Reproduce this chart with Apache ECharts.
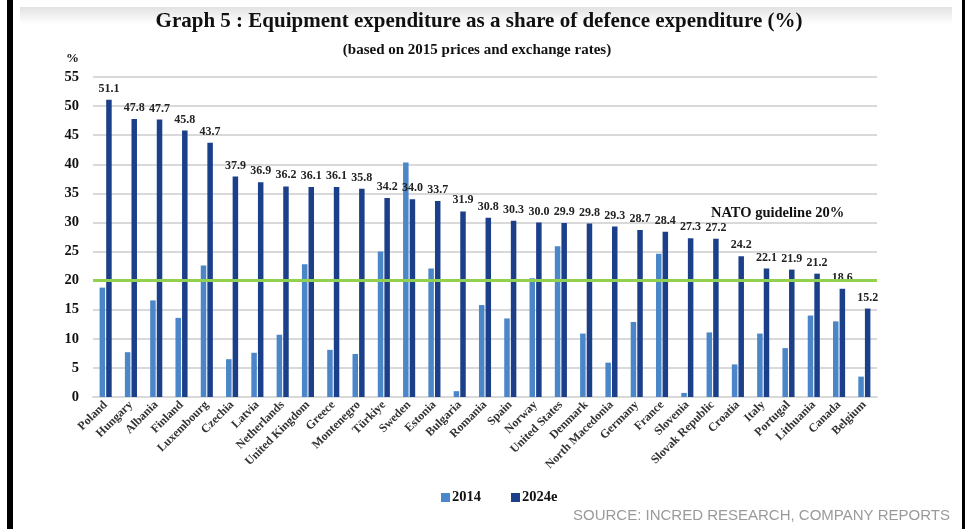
<!DOCTYPE html>
<html>
<head>
<meta charset="utf-8">
<script src="https://cdn.jsdelivr.net/npm/echarts@6/dist/echarts.min.js"></script>
<style>html,body{margin:0;padding:0;background:#fff;}#c{width:969px;height:529px;}</style>
</head>
<body>
<div id="c"></div>
<script>
var categories = ['Poland','Hungary','Albania','Finland','Luxembourg','Czechia','Latvia','Netherlands','United Kingdom','Greece','Montenegro','Türkiye','Sweden','Estonia','Bulgaria','Romania','Spain','Norway','United States','Denmark','North Macedonia','Germany','France','Slovenia','Slovak Republic','Croatia','Italy','Portugal','Lithuania','Canada','Belgium'];
var values2014 = [18.8,7.7,16.6,13.6,22.6,6.5,7.6,10.7,22.8,8.1,7.4,25.0,40.3,22.1,1.0,15.8,13.5,20.4,25.9,10.9,5.9,12.9,24.6,0.7,11.1,5.6,10.9,8.4,14.0,13.0,3.5];
var values2024 = [51.1,47.8,47.7,45.8,43.7,37.9,36.9,36.2,36.1,36.1,35.8,34.2,34.0,33.7,31.9,30.8,30.3,30.0,29.9,29.8,29.3,28.7,28.4,27.3,27.2,24.2,22.1,21.9,21.2,18.6,15.2];
var seriesNames = ['2014','2024e'];
var natoGuideline = 20;

var serif = '"Liberation Serif", "DejaVu Serif", serif';
var chart = echarts.init(document.getElementById('c'), null, {renderer:'canvas'});
chart.setOption({
  backgroundColor: '#fff',
  animation: false,
  title: [
    {text: 'Graph 5 : Equipment expenditure as a share of defence expenditure (%)', left: 474, top: 6, textAlign: 'center',
     textStyle: {fontFamily: serif, fontWeight: 'bold', fontSize: 21, color: '#111'}},
    {text: '(based on 2015 prices and exchange rates)', left: 472, top: 38, textAlign: 'center',
     textStyle: {fontFamily: serif, fontWeight: 'bold', fontSize: 15, color: '#111'}}
  ],
  legend: {
    data: seriesNames, left: 436, top: 485, itemWidth: 9, itemHeight: 9, itemGap: 30, icon: 'rect',
    textStyle: {fontFamily: serif, fontWeight: 'bold', fontSize: 14.5, color: '#111', padding: [0,0,0,-3]}
  },
  grid: {left: 93, right: 92, top: 77, bottom: 132, containLabel: false},
  xAxis: {
    type: 'category', data: categories,
    axisLine: {lineStyle: {color: '#d9d9d9', width: 2}},
    axisTick: {show: false},
    axisLabel: {rotate: 45, interval: 0, fontFamily: serif, fontSize: 12, fontWeight: 'bold', color: '#333', margin: 6}
  },
  yAxis: {
    type: 'value', min: 0, max: 55, interval: 5,
    name: '%', nameLocation: 'end', nameGap: 12,
    nameTextStyle: {fontFamily: serif, fontWeight: 'bold', fontSize: 13, color: '#111', align: 'right', padding: [0, 14, 0, 0]},
    axisLine: {show: false}, axisTick: {show: false},
    axisLabel: {fontFamily: serif, fontWeight: 'bold', fontSize: 14.5, color: '#111', margin: 14},
    splitLine: {lineStyle: {color: '#d9d9d9', width: 2}}
  },
  series: [
    {name: seriesNames[0], type: 'bar', data: values2014, barWidth: 5.5, barGap: '20%',
     itemStyle: {color: '#4a86c8'}},
    {name: seriesNames[1], type: 'bar', data: values2024, barWidth: 5.5,
     itemStyle: {color: '#1c3f8a'},
     label: {show: true, position: 'top', distance: 5, formatter: function(p){return p.value.toFixed(1);},
       fontFamily: serif, fontWeight: 'bold', fontSize: 12, color: '#222'},
     markLine: {silent: true, symbol: 'none', label: {show: false},
       lineStyle: {color: '#92d050', width: 3, type: 'solid'},
       data: [{yAxis: natoGuideline}]}
    }
  ],
  graphic: [
    {type: 'rect', left: 7, top: 0, shape: {width: 6, height: 529}, style: {fill: '#000'}},
    {type: 'rect', left: 962, top: 0, shape: {width: 3, height: 529}, style: {fill: '#000'}},
    {type: 'rect', left: 20, top: 7, shape: {width: 932, height: 17}, z: -1,
     style: {fill: new echarts.graphic.LinearGradient(0,0,0,1,[{offset:0,color:'#e2e2e2'},{offset:1,color:'#ffffff'}])}},
    {type: 'text', left: 711, top: 206, style: {text: 'NATO guideline 20%', font: 'bold 14.5px ' + serif, fill: '#111'}},
    {type: 'text', right: 19, top: 508, style: {text: 'SOURCE: INCRED RESEARCH, COMPANY REPORTS', font: '15px "Liberation Sans", Arial, sans-serif', fill: '#9a9a9a'}}
  ]
});
</script>
</body>
</html>
